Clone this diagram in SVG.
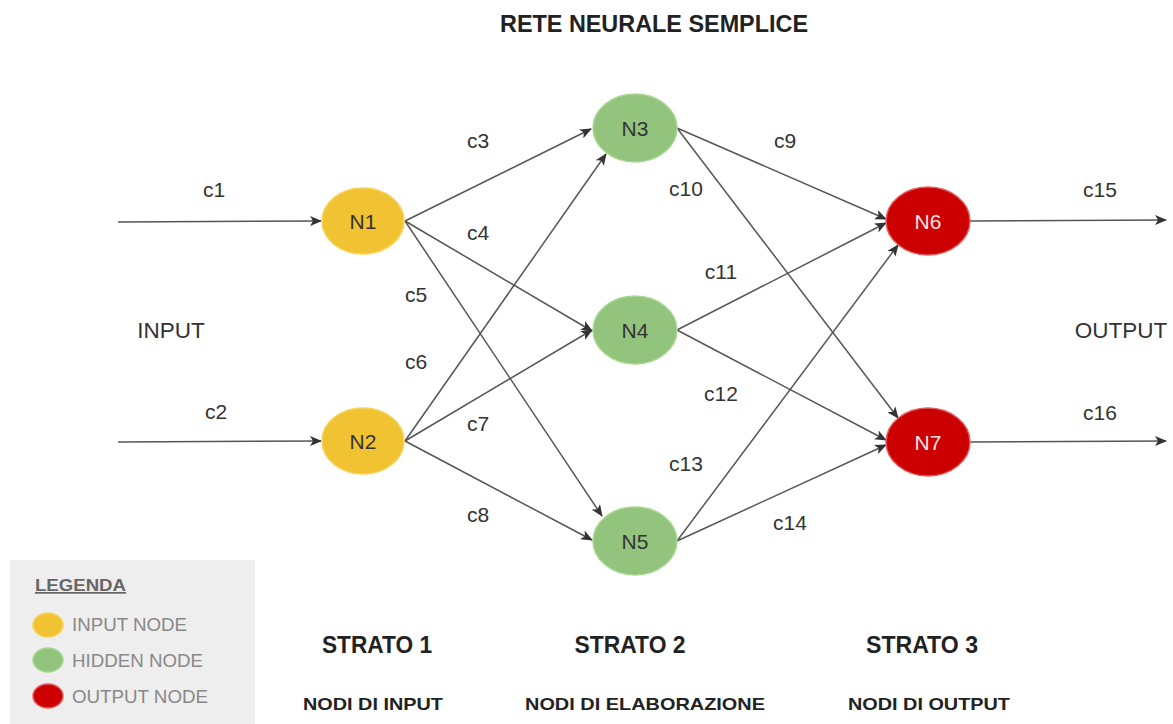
<svg xmlns="http://www.w3.org/2000/svg" width="1173" height="724" viewBox="0 0 1173 724">
<style>
.e{stroke:#555;stroke-width:1.5;fill:none;marker-end:url(#ah)}
.lbl{font-family:"Liberation Sans",Arial,sans-serif;font-size:21px;fill:#333;text-anchor:middle}
.big{font-size:22.5px}
.nl{font-family:"Liberation Sans",Arial,sans-serif;font-size:21px;fill:#333;text-anchor:middle;dominant-baseline:central}
.inp{fill:#f1c232;stroke:#f6d35a;stroke-width:1.5}
.hid{fill:#93c47d;stroke:#a8d990;stroke-width:1.5}
.out{fill:#cc0000;stroke:#e06060;stroke-width:1.5}
.h1{font-family:"Liberation Sans",Arial,sans-serif;font-weight:bold;font-size:24px;fill:#222;text-anchor:middle}
.h2{font-family:"Liberation Sans",Arial,sans-serif;font-weight:bold;font-size:17px;fill:#222;text-anchor:middle}
.lg{font-family:"Liberation Sans",Arial,sans-serif;font-size:18px;fill:#888}
</style>
<defs>
<marker id="ah" markerWidth="12" markerHeight="10" refX="11" refY="5" orient="auto" markerUnits="userSpaceOnUse">
<path d="M0,0 L12,5 L0,10 L3,5 Z" fill="#333"/>
</marker>
</defs>
<rect width="1173" height="724" fill="#ffffff"/>
<text class="h1" x="654" y="32" textLength="308" lengthAdjust="spacingAndGlyphs">RETE NEURALE SEMPLICE</text>
<g id="connectors">
<line class="e" x1="118" y1="222" x2="321" y2="221"/>
<line class="e" x1="118" y1="442" x2="321" y2="441"/>
<line class="e" x1="405" y1="221" x2="591" y2="129"/>
<line class="e" x1="405" y1="221" x2="592" y2="331"/>
<line class="e" x1="405" y1="221" x2="602" y2="516"/>
<line class="e" x1="405" y1="441" x2="606" y2="154"/>
<line class="e" x1="405" y1="441" x2="592" y2="330"/>
<line class="e" x1="405" y1="441" x2="592" y2="540"/>
<line class="e" x1="677" y1="128" x2="886" y2="219"/>
<line class="e" x1="677" y1="128" x2="898" y2="418"/>
<line class="e" x1="677" y1="330" x2="886" y2="223"/>
<line class="e" x1="677" y1="330" x2="886" y2="440"/>
<line class="e" x1="677" y1="541" x2="898" y2="245"/>
<line class="e" x1="677" y1="541" x2="886" y2="445"/>
<line class="e" x1="970" y1="221" x2="1166" y2="220"/>
<line class="e" x1="970" y1="442" x2="1166" y2="441"/>
</g>
<g id="edge-labels">
<text class="lbl" x="214" y="197">c1</text>
<text class="lbl" x="216" y="419">c2</text>
<text class="lbl" x="478" y="148">c3</text>
<text class="lbl" x="478" y="240">c4</text>
<text class="lbl" x="416" y="302">c5</text>
<text class="lbl" x="416" y="369">c6</text>
<text class="lbl" x="478" y="431">c7</text>
<text class="lbl" x="478" y="522">c8</text>
<text class="lbl" x="785" y="148">c9</text>
<text class="lbl" x="686" y="196">c10</text>
<text class="lbl" x="721" y="279">c11</text>
<text class="lbl" x="721" y="401">c12</text>
<text class="lbl" x="686" y="471">c13</text>
<text class="lbl" x="790" y="530">c14</text>
<text class="lbl" x="1100" y="197">c15</text>
<text class="lbl" x="1100" y="420">c16</text>
<text class="lbl big" x="171" y="338">INPUT</text>
<text class="lbl big" x="1121" y="338">OUTPUT</text>
</g>
<g id="N1"><ellipse class="inp" cx="363" cy="221" rx="41" ry="33"/><text class="nl" x="363" y="221">N1</text></g>
<g id="N2"><ellipse class="inp" cx="363" cy="441" rx="41" ry="33"/><text class="nl" x="363" y="441">N2</text></g>
<g id="N3"><ellipse class="hid" cx="635" cy="128" rx="42" ry="34"/><text class="nl" x="635" y="128">N3</text></g>
<g id="N4"><ellipse class="hid" cx="635" cy="330" rx="42" ry="34"/><text class="nl" x="635" y="330">N4</text></g>
<g id="N5"><ellipse class="hid" cx="635" cy="541" rx="42" ry="34"/><text class="nl" x="635" y="541">N5</text></g>
<g id="N6"><ellipse class="out" cx="928" cy="221" rx="42" ry="34"/><text class="nl" x="928" y="221" style="fill:#fbe4e4">N6</text></g>
<g id="N7"><ellipse class="out" cx="928" cy="442" rx="42" ry="34"/><text class="nl" x="928" y="442" style="fill:#fbe4e4">N7</text></g>
<g id="layers">
<text class="h1" x="377" y="653" textLength="110" lengthAdjust="spacingAndGlyphs">STRATO 1</text>
<text class="h1" x="630" y="653" textLength="111" lengthAdjust="spacingAndGlyphs">STRATO 2</text>
<text class="h1" x="922" y="653" textLength="112" lengthAdjust="spacingAndGlyphs">STRATO 3</text>
<text class="h2" x="373" y="710" textLength="140" lengthAdjust="spacingAndGlyphs">NODI DI INPUT</text>
<text class="h2" x="645" y="710" textLength="240" lengthAdjust="spacingAndGlyphs">NODI DI ELABORAZIONE</text>
<text class="h2" x="929" y="710" textLength="162" lengthAdjust="spacingAndGlyphs">NODI DI OUTPUT</text>
</g>
<g id="legend">
<rect x="10" y="560" width="245" height="164" fill="#eeeeee"/>
<text x="35" y="591" textLength="91" lengthAdjust="spacingAndGlyphs" style="font-family:'Liberation Sans',Arial,sans-serif;font-weight:bold;font-size:17px;fill:#666;text-decoration:underline">LEGENDA</text>
<ellipse class="inp" cx="48" cy="625" rx="15" ry="12"/>
<text class="lg" x="72" y="631" textLength="115" lengthAdjust="spacingAndGlyphs">INPUT NODE</text>
<ellipse class="hid" cx="48" cy="660" rx="15" ry="12"/>
<text class="lg" x="72" y="667" textLength="131" lengthAdjust="spacingAndGlyphs">HIDDEN NODE</text>
<ellipse class="out" cx="48" cy="696" rx="15" ry="12"/>
<text class="lg" x="72" y="703" textLength="136" lengthAdjust="spacingAndGlyphs">OUTPUT NODE</text>
</g>
</svg>
